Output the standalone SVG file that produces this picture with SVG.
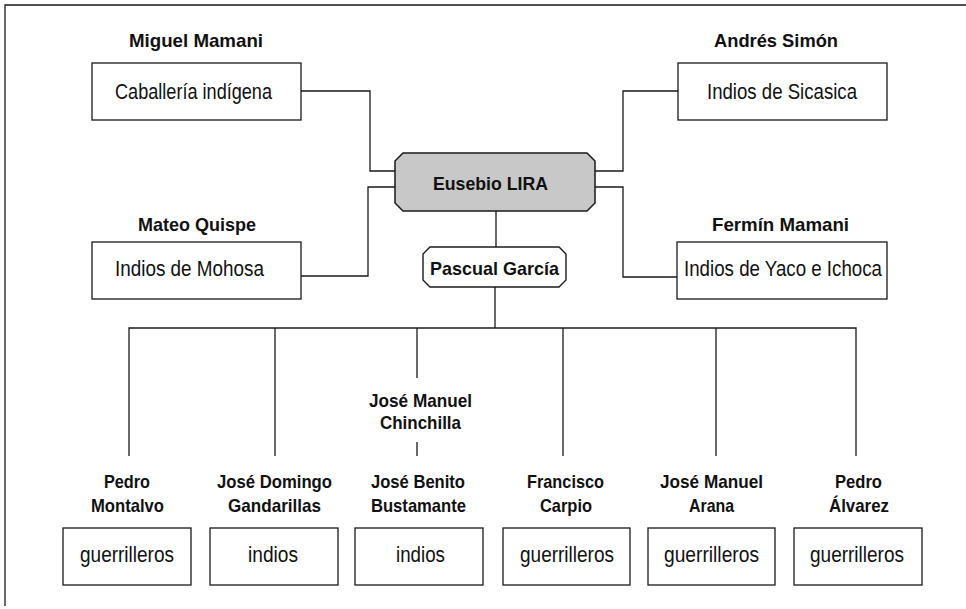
<svg xmlns="http://www.w3.org/2000/svg" width="966" height="609" viewBox="0 0 966 609">
<style>
.ln{fill:none;stroke:#1a1a1a;stroke-width:1.3}
.box{fill:#ffffff;stroke:#1a1a1a;stroke-width:1.3}
.main{fill:#c8c8c8;stroke:#1a1a1a;stroke-width:1.5}
.sub{fill:#ffffff;stroke:#1a1a1a;stroke-width:1.4}
.nm{font-family:"Liberation Sans",Arial,sans-serif;font-weight:bold;font-size:19px;fill:#111;text-anchor:middle}
.tx{font-family:"Liberation Sans",Arial,sans-serif;font-size:22.5px;fill:#111;text-anchor:middle}
</style>
<rect width="966" height="609" fill="#ffffff"/>
<g id="frame">
<path class="ln" d="M5,606 V5 H966"/>
</g>
<g id="connectors">
<path class="ln" d="M301,91 H370 V171 H395"/>
<path class="ln" d="M301,276 H368 V187 H395"/>
<path class="ln" d="M678,91 H623 V171 H595"/>
<path class="ln" d="M677,277 H623 V187 H595"/>
<path class="ln" d="M496,211 V247"/>
<path class="ln" d="M495,287 V328"/>
<path class="ln" d="M129,456 V328 H856 V456"/>
<path class="ln" d="M275,328 V456"/>
<path class="ln" d="M563,328 V456"/>
<path class="ln" d="M716,328 V456"/>
<path class="ln" d="M417,328 V378"/>
<path class="ln" d="M417,442 V456"/>
</g>
<g id="eusebio">
<path class="main" d="M403,153 H587 L595,161 V203 L587,211 H403 L395,203 V161 Z"/>
<text class="nm" x="490.5" y="190" textLength="115" lengthAdjust="spacingAndGlyphs">Eusebio LIRA</text>
</g>
<g id="pascual">
<path class="sub" d="M430,247 H559 L566,254 V280 L559,287 H430 L423,280 V254 Z"/>
<text class="nm" x="494.5" y="275" textLength="129" lengthAdjust="spacingAndGlyphs">Pascual García</text>
</g>
<g id="miguel">
<text class="nm" x="196" y="47" textLength="134" lengthAdjust="spacingAndGlyphs">Miguel Mamani</text>
<rect class="box" x="92" y="63" width="209" height="57"/>
<text class="tx" x="193.5" y="99" textLength="157" lengthAdjust="spacingAndGlyphs">Caballería indígena</text>
</g>
<g id="andres">
<text class="nm" x="776" y="47" textLength="124" lengthAdjust="spacingAndGlyphs">Andrés Simón</text>
<rect class="box" x="678" y="63" width="209" height="57"/>
<text class="tx" x="782" y="99" textLength="150" lengthAdjust="spacingAndGlyphs">Indios de Sicasica</text>
</g>
<g id="mateo">
<text class="nm" x="197" y="231" textLength="118" lengthAdjust="spacingAndGlyphs">Mateo Quispe</text>
<rect class="box" x="92" y="242" width="209" height="57"/>
<text class="tx" x="189.5" y="276" textLength="149" lengthAdjust="spacingAndGlyphs">Indios de Mohosa</text>
</g>
<g id="fermin">
<text class="nm" x="780.5" y="231" textLength="137" lengthAdjust="spacingAndGlyphs">Fermín Mamani</text>
<rect class="box" x="677" y="242" width="210" height="57"/>
<text class="tx" x="783" y="276" textLength="198" lengthAdjust="spacingAndGlyphs">Indios de Yaco e Ichoca</text>
</g>
<g id="chinchilla">
<text class="nm" x="420.5" y="407" textLength="103" lengthAdjust="spacingAndGlyphs">José Manuel</text>
<text class="nm" x="420.5" y="429" textLength="81" lengthAdjust="spacingAndGlyphs">Chinchilla</text>
</g>
<g id="montalvo">
<text class="nm" x="127" y="488" textLength="46" lengthAdjust="spacingAndGlyphs">Pedro</text>
<text class="nm" x="127.5" y="512" textLength="73" lengthAdjust="spacingAndGlyphs">Montalvo</text>
<rect class="box" x="63" y="528" width="128" height="57"/>
<text class="tx" x="127" y="562" textLength="94" lengthAdjust="spacingAndGlyphs">guerrilleros</text>
</g>
<g id="gandarillas">
<text class="nm" x="274.5" y="488" textLength="115" lengthAdjust="spacingAndGlyphs">José Domingo</text>
<text class="nm" x="274.5" y="512" textLength="93" lengthAdjust="spacingAndGlyphs">Gandarillas</text>
<rect class="box" x="210" y="528" width="128" height="57"/>
<text class="tx" x="273" y="562" textLength="50" lengthAdjust="spacingAndGlyphs">indios</text>
</g>
<g id="bustamante">
<text class="nm" x="418" y="488" textLength="94" lengthAdjust="spacingAndGlyphs">José Benito</text>
<text class="nm" x="418.5" y="512" textLength="95" lengthAdjust="spacingAndGlyphs">Bustamante</text>
<rect class="box" x="355" y="528" width="128" height="57"/>
<text class="tx" x="420.5" y="562" textLength="49" lengthAdjust="spacingAndGlyphs">indios</text>
</g>
<g id="carpio">
<text class="nm" x="565.5" y="488" textLength="77" lengthAdjust="spacingAndGlyphs">Francisco</text>
<text class="nm" x="566" y="512" textLength="52" lengthAdjust="spacingAndGlyphs">Carpio</text>
<rect class="box" x="503" y="528" width="127" height="57"/>
<text class="tx" x="567" y="562" textLength="94" lengthAdjust="spacingAndGlyphs">guerrilleros</text>
</g>
<g id="arana">
<text class="nm" x="711.5" y="488" textLength="103" lengthAdjust="spacingAndGlyphs">José Manuel</text>
<text class="nm" x="711.5" y="512" textLength="45" lengthAdjust="spacingAndGlyphs">Arana</text>
<rect class="box" x="648" y="528" width="127" height="57"/>
<text class="tx" x="711.5" y="562" textLength="95" lengthAdjust="spacingAndGlyphs">guerrilleros</text>
</g>
<g id="alvarez">
<text class="nm" x="858.5" y="488" textLength="47" lengthAdjust="spacingAndGlyphs">Pedro</text>
<text class="nm" x="859" y="512" textLength="60" lengthAdjust="spacingAndGlyphs">Álvarez</text>
<rect class="box" x="794" y="528" width="128" height="57"/>
<text class="tx" x="857" y="562" textLength="94" lengthAdjust="spacingAndGlyphs">guerrilleros</text>
</g>
</svg>
